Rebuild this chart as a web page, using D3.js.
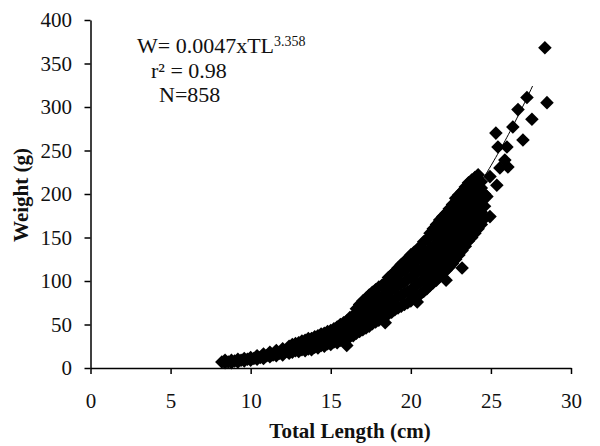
<!DOCTYPE html>
<html>
<head>
<meta charset="utf-8">
<script src="https://cdn.jsdelivr.net/npm/d3@7"></script>
<style>
  body { margin: 0; background: #fff; }
  svg text { font-family: "Liberation Serif", "Times New Roman", serif; fill: #111; }
</style>
</head>
<body>
<svg id="chart" width="600" height="446"></svg>
<script>
// Axis ticks
const xTicks = [0, 5, 10, 15, 20, 25, 30];
const yTicks = [0, 50, 100, 150, 200, 250, 300, 350, 400];

// Length–weight relationship W = a·TL^b
const fitCoef = 0.0047;
const fitExp = 3.358;
const fitR2 = 0.98;
const sampleN = 858;
const fitRange = [8.2, 27.6];

// Measured fish, grouped by total length (cm): [TL, [weights (g) ...]]
const smallFish = [
  [8.2,[7]],[8.4,[6,9]],[8.6,[7]],[8.8,[6,9]],[9.0,[8]],[9.2,[7,10]],[9.4,[9]],[9.6,[8,11]],
  [9.8,[10]],[10.0,[9,12]],[10.2,[11]],[10.4,[10,14]],[10.6,[12]],[10.8,[11,16]],[11.0,[14]],
  [11.2,[13,18]],[11.4,[15]],[11.6,[14,20]],[11.8,[17]],[12.0,[15,22]],[12.2,[19]],[12.4,[17,25]],
  [12.6,[18,22,27]],[12.8,[20,28]],[13.0,[19,24,29]],[13.2,[21,31]],[13.4,[20,26,32]],[13.6,[22,34]],
  [13.8,[21,28,34]],[14.0,[24,36]],[14.2,[23,30,37]],[14.4,[26,39]],[14.6,[25,32,40]],[14.8,[28,42]],
  [15.0,[27,35,43]],[15.2,[30,45]],[15.4,[29,38,47]],[15.6,[32,50]],[15.8,[31,41,52]]
];
const midFish = [
  [16.0,[26,33,43,54]],[16.2,[36,47,58]],[16.4,[37,48,60]],[16.6,[40,51,63,68]],[16.8,[42,53,64,73]],
  [17.0,[44,56,67,77]],[17.2,[46,58,70,80]],[17.4,[48,60,72,84]],[17.6,[51,63,75,87]],[17.8,[53,65,77,90]],
  [18.0,[55,67,80,93]],[18.2,[58,70,82,95]],[18.4,[52,60,72,85,98]],[18.6,[62,74,87,100,104]],
  [18.8,[64,77,90,103,107]],[19.0,[67,79,92,105,111]],[19.2,[69,82,95,108,115]],[19.4,[71,84,97,110,119]],
  [19.6,[73,86,99,112,122]],[19.8,[75,88,102,115,126]],[20.0,[77,90,104,118,130]],[20.2,[80,93,107,121,133]],
  [20.4,[76,82,96,110,124,136]],[20.6,[85,99,113,127,140]],[20.8,[88,102,116,130,145]]
];
const largeFish = [
  [21.0,[91,105,119,133,148]],[21.2,[95,109,123,137,151,155]],[21.4,[98,112,126,140,154,160]],
  [21.6,[101,115,129,143,157,165]],[21.8,[105,119,133,147,161,170]],[22.0,[109,123,137,151,165,174]],
  [22.2,[101,112,126,140,154,168,178]],[22.4,[116,130,144,158,172,183]],[22.6,[120,134,148,162,176,188]],
  [22.8,[125,139,153,167,181,195]],[23.0,[130,144,158,172,186,199]],[23.2,[115,135,149,163,177,191,203]],
  [23.4,[140,154,168,182,196,208]],[23.6,[146,160,174,188,202,213]],[23.8,[150,164,178,192,206,216]],
  [24.0,[155,169,183,197,211,219]],[24.2,[160,174,188,202,216,222]],[24.4,[165,179,193,207,214]],
  [24.6,[172,186,200]],[24.75,[197]],[24.94,[174,220]]
];
const largestFish = [
  [25.31,[270]],[25.37,[210]],[25.44,[254]],[25.56,[230]],[25.87,[239]],[26.0,[254]],[26.06,[231]],
  [26.37,[277]],[26.69,[297]],[27.0,[262]],[27.25,[311]],[27.56,[286]],[28.37,[368]],[28.5,[305]]
];

const svg = d3.select("#chart");
const x = d3.scaleLinear().domain([0, 30]).range([90.5, 571]);
const y = d3.scaleLinear().domain([0, 400]).range([368, 20]);

// Points
const fish = smallFish.concat(midFish, largeFish, largestFish)
  .flatMap(([tl, ws]) => ws.map(w => [tl, w]));
const marker = d3.symbol().type(d3.symbolSquare).size(92);
svg.append("g")
  .selectAll("path")
  .data(fish)
  .join("path")
  .attr("d", marker)
  .attr("transform", d => `translate(${x(d[0])},${y(d[1])}) rotate(45)`)
  .attr("fill", "#000");

// Fitted power curve
const curveTL = d3.range(fitRange[0], fitRange[1] + 0.001, 0.1);
svg.append("path")
  .datum(curveTL)
  .attr("fill", "none")
  .attr("stroke", "#000")
  .attr("stroke-width", 1)
  .attr("d", d3.line().x(t => x(t)).y(t => y(fitCoef * Math.pow(t, fitExp))));

// Axes
const xAxis = svg.append("g")
  .attr("transform", `translate(0,${y(0)})`)
  .call(d3.axisBottom(x).tickValues(xTicks).tickSize(6).tickSizeOuter(0).tickPadding(19));
const yAxis = svg.append("g")
  .attr("transform", `translate(${x(0)},0)`)
  .call(d3.axisLeft(y).tickValues(yTicks).tickSize(6).tickSizeOuter(0).tickPadding(12.5));
[xAxis, yAxis].forEach(g => {
  g.selectAll("path, line").attr("stroke", "#000").attr("stroke-width", 1.5);
  g.selectAll("text").attr("font-size", 21).attr("font-family", "Liberation Serif, Times New Roman, serif").attr("fill", "#111");
});

// Axis titles
svg.append("text")
  .attr("x", 350).attr("y", 438)
  .attr("text-anchor", "middle")
  .attr("font-size", 21).attr("font-weight", "bold")
  .text("Total Length (cm)");
svg.append("text")
  .attr("transform", "translate(28,195) rotate(-90)")
  .attr("text-anchor", "middle")
  .attr("font-size", 21).attr("font-weight", "bold")
  .text("Weight (g)");

// Equation and statistics
const eq = svg.append("text").attr("x", 137).attr("y", 53).attr("font-size", 22);
eq.append("tspan").text(`W= ${fitCoef}xTL`);
eq.append("tspan").attr("font-size", 14).attr("dy", -7).text(fitExp.toFixed(3));
svg.append("text").attr("x", 151).attr("y", 78).attr("font-size", 22)
  .text(`r\u00B2 = ${fitR2}`);
svg.append("text").attr("x", 159).attr("y", 102).attr("font-size", 22)
  .text(`N=${sampleN}`);
</script>
</body>
</html>
